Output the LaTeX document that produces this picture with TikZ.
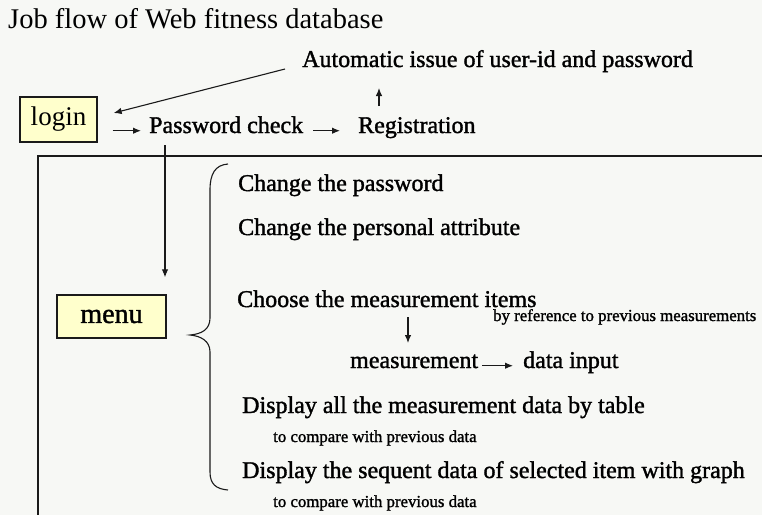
\documentclass[tikz,border=0pt]{standalone}
\usepackage{fontspec}
\setmainfont{Liberation Serif}
\newfontfamily\heavy{Liberation Serif}[FakeBold=1.4]
\usetikzlibrary{arrows.meta,calc}
\definecolor{bgc}{HTML}{F7F8F5}
\definecolor{boxc}{HTML}{FFFFCC}
\definecolor{linec}{HTML}{1A1A1A}
\tikzset{
  txt/.style={inner sep=0pt, anchor=base west, font=\heavy\fontsize{24}{28}\selectfont},
  small/.style={inner sep=0pt, anchor=base west, font=\heavy\fontsize{16.8}{20}\selectfont},
  ybox/.style={draw=linec, line width=1.3pt, fill=boxc, inner sep=0pt},
  arr/.style={draw=linec, line width=1.1pt, -{Latex[length=8pt,width=6.5pt]}},
  ln/.style={draw=linec, line width=1.3pt}
}
\begin{document}
\begin{tikzpicture}[x=1pt,y=-1pt]
\fill[bgc] (0,0) rectangle (762,515);
\useasboundingbox (0,0) rectangle (762,515);

\node[inner sep=0pt, anchor=base west, font=\fontsize{28.5}{32}\selectfont] (title) at (8,28) {Job flow of Web fitness database};

\node[ybox, minimum width=77pt, minimum height=45pt, font=\fontsize{27}{30}\selectfont] (login) at (58.5,119.5) {login};
\node[txt] (auto) at (302,67) {Automatic issue of user-id and password};
\node[txt] (pwd) at (149,133) {Password check};
\node[txt] (reg) at (358,133) {Registration};

% frame lines
\coordinate (fr1) at (762,156);
\coordinate (fr2) at (38,156);
\coordinate (fr3) at (38,515);
\draw[ln] (fr1) -- (fr2) -- (fr3);

\node[ybox, minimum width=109pt, minimum height=43pt, font=\heavy\fontsize{28}{30}\selectfont] (menu) at (111.5,316.5) {menu};

% connectors top
\draw[arr] ([xshift=15pt]login.east |- pwd.mid) -- ([xshift=-8pt]pwd.west |- pwd.mid);
\draw[arr] ([xshift=10pt]pwd.east |- pwd.mid) -- ([xshift=-18pt]reg.west |- pwd.mid);
\coordinate (upS) at (379,106);
\coordinate (upE) at (379,88);
\draw[arr] (upS) -- (upE);
\coordinate (autoS) at (285,69);
\draw[arr] (autoS) -- ([xshift=16pt,yshift=6.5pt]login.east);
\coordinate (vx) at (165,0);
\draw[arr, shorten <=12pt, shorten >=17pt] (pwd.base -| vx) -- (menu.north -| vx);

% brace
\draw[linec, line width=1.1pt] (228,164) .. controls (215,165) and (210,174) .. (210,190)
  -- (210,318) .. controls (210,330) and (201,334) .. (190,335)
  .. controls (201,336) and (210,341) .. (210,352)
  -- (210,472) .. controls (210,484) and (216,489) .. (228,490);

% menu items
\node[txt] (c1) at (238,191) {Change the password};
\node[txt] (c2) at (238,235) {Change the personal attribute};
\node[txt] (ch) at (237,307) {Choose the measurement items};
\node[small] (ref) at (493,321) {by reference to previous measurements};
\node[txt] (meas) at (350,368) {measurement};
\node[txt] (din) at (523,368) {data input};
\coordinate (dS) at (408,317);
\coordinate (dE) at (408,343);
\draw[arr] (dS) -- (dE);
\draw[arr] ([xshift=4pt]meas.east |- meas.mid) -- ([xshift=-10pt]din.west |- meas.mid);
\node[txt] (d1) at (242,413) {Display all the measurement data by table};
\node[small] (t1) at (273,442) {to compare with previous data};
\node[txt] (d2) at (242,478) {Display the sequent data of selected item with graph};
\node[small] (t2) at (273,507) {to compare with previous data};
\end{tikzpicture}
\end{document}
